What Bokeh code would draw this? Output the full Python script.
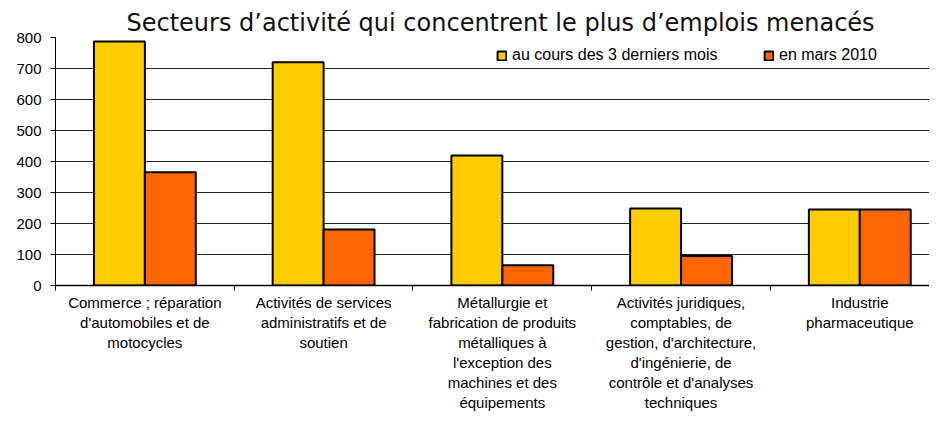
from bokeh.plotting import figure
from bokeh.models import Range1d, FixedTicker, Legend, LegendItem, ColumnDataSource, LinearAxis
from bokeh.transform import dodge
from bokeh.embed import file_html
from bokeh.resources import INLINE

title_text = "Secteurs d’activité qui concentrent le plus d’emplois menacés"
categories = [
    "Commerce ; réparation\nd'automobiles et de\nmotocycles",
    "Activités de services\nadministratifs et de\nsoutien",
    "Métallurgie et\nfabrication de produits\nmétalliques à\nl'exception des\nmachines et des\néquipements",
    "Activités juridiques,\ncomptables, de\ngestion, d'architecture,\nd'ingénierie, de\ncontrôle et d'analyses\ntechniques",
    "Industrie\npharmaceutique",
]
recent = [787, 720, 419, 248, 245]
march2010 = [365, 181, 65, 95, 245]
series_names = ["au cours des 3 derniers mois", "en mars 2010"]
y_ticks = [0, 100, 200, 300, 400, 500, 600, 700, 800]

YELLOW = "#FFCC00"
ORANGE = "#FF6600"
FONT = "Liberation Sans"

n = len(categories)
centers = [i + 0.5 for i in range(n)]
src = ColumnDataSource(dict(x=centers, recent=recent, march=march2010))

p = figure(width=929, height=414,
           x_range=Range1d(0, 4.890), y_range=Range1d(0, 800),
           output_backend="svg", toolbar_location=None,
           min_border_left=55, min_border_right=0,
           min_border_top=37, min_border_bottom=129)
p.outline_line_color = None
p.background_fill_color = "white"

p.title.text = title_text
p.title.align = "left"
p.title.text_font = "DejaVu Sans"
p.title.text_font_size = "24px"
p.title.text_font_style = "normal"
p.title.text_color = "#111111"
p.title.offset = 71
p.title.standoff = 1

bw = 0.285
r1 = p.vbar(x=dodge("x", -bw / 2, range=p.x_range), top="recent", width=bw, source=src,
            fill_color=YELLOW, line_color="black", line_width=2)
r2 = p.vbar(x=dodge("x", bw / 2, range=p.x_range), top="march", width=bw, source=src,
            fill_color=ORANGE, line_color="black", line_width=2)

# y axis
p.yaxis.ticker = FixedTicker(ticks=y_ticks)
p.yaxis.major_label_text_font = FONT
p.yaxis.major_label_text_font_size = "15px"
p.yaxis.major_label_text_color = "black"
p.yaxis.major_tick_out = 5
p.yaxis.major_tick_in = 0
p.yaxis.minor_tick_line_color = None
p.yaxis.major_label_standoff = 9
p.yaxis.axis_line_color = "black"
p.yaxis.major_tick_line_color = "black"

p.xgrid.grid_line_color = None
p.ygrid.grid_line_color = "#222222"
p.ygrid.grid_line_width = 1

# category labels: one axis per text line
lines = [cat.split("\n") for cat in categories]
max_lines = max(len(l) for l in lines)
for k in range(max_lines):
    overrides = {c: (l[k] if k < len(l) else "") for c, l in zip(centers, lines)}
    if k == 0:
        ax = p.xaxis[0]
        ax.ticker = FixedTicker(ticks=centers, minor_ticks=list(range(n + 1)))
        ax.minor_tick_out = 5
        ax.minor_tick_in = 0
        ax.minor_tick_line_color = "black"
        ax.axis_line_color = "black"
        ax.axis_line_width = 1.5
        ax.major_label_standoff = 3
    else:
        ax = LinearAxis(ticker=FixedTicker(ticks=centers, minor_ticks=[]))
        ax.axis_line_color = None
        ax.minor_tick_line_color = None
        ax.major_label_standoff = 0
        p.add_layout(ax, "below")
    ax.axis_label_standoff = 0
    ax.major_tick_line_color = None
    ax.major_tick_out = 0
    ax.major_tick_in = 0
    ax.major_label_overrides = overrides
    ax.major_label_text_font = FONT
    ax.major_label_text_font_size = "15px"
    ax.major_label_text_color = "black"

# legends
for name, rend, loc in [(series_names[0], r1, (441, 221)), (series_names[1], r2, (708, 221))]:
    lg = Legend(items=[LegendItem(label=name, renderers=[rend])], location=loc,
                orientation="horizontal", padding=0, margin=0,
                glyph_width=11, glyph_height=11, label_height=16,
                label_standoff=5, border_line_color=None,
                background_fill_alpha=0,
                label_text_font=FONT, label_text_font_size="16px",
                label_text_color="black")
    p.add_layout(lg)

open("out.html", "w").write(file_html(p, INLINE))
